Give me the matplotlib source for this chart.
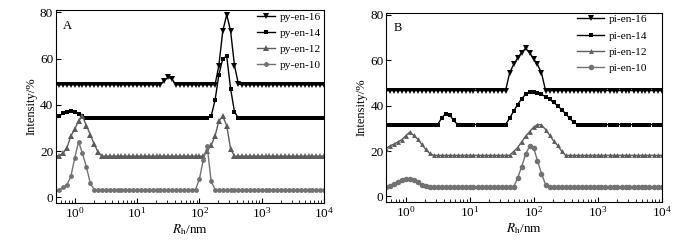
import matplotlib
matplotlib.use("Agg")
import matplotlib.pyplot as plt
import matplotlib.ticker as mticker

plt.rcParams["font.family"] = ["Liberation Serif", "DejaVu Serif"]
plt.rcParams["mathtext.fontset"] = "stix"
plt.rcParams["font.size"] = 9.5

# hydrodynamic radius grid (nm), shared by every curve
rh = [
    0.487, 0.562, 0.649, 0.750, 0.866, 1.00, 1.15, 1.33, 1.54, 1.78,
    2.05, 2.37, 2.74, 3.16, 3.65, 4.22, 4.87, 5.62, 6.49, 7.50,
    8.66, 10.0, 11.5, 13.3, 15.4, 17.8, 20.5, 23.7, 27.4, 31.6,
    36.5, 42.2, 48.7, 56.2, 64.9, 75.0, 86.6, 100, 115, 133,
    154, 178, 205, 237, 274, 316, 365, 422, 487, 562,
    649, 750, 866, 1000, 1150, 1330, 1540, 1780, 2050, 2370,
    2740, 3160, 3650, 4220, 4870, 5620, 6490, 7500, 8660, 10000,
]

# panel A
py16 = [
    48.7, 48.7, 48.7, 48.7, 48.7, 48.7, 48.7, 48.7, 48.7, 48.7,
    48.7, 48.7, 48.7, 48.7, 48.7, 48.7, 48.7, 48.7, 48.7, 48.7,
    48.7, 48.7, 48.7, 48.7, 48.7, 48.7, 48.7, 48.7, 50.5, 52.0,
    51.0, 48.7, 48.7, 48.7, 48.7, 48.7, 48.7, 48.7, 48.7, 48.7,
    48.7, 48.7, 57.0, 72.0, 79.0, 72.0, 57.0, 49.0, 48.7, 48.7,
    48.7, 48.7, 48.7, 48.7, 48.7, 48.7, 48.7, 48.7, 48.7, 48.7,
    48.7, 48.7, 48.7, 48.7, 48.7, 48.7, 48.7, 48.7, 48.7, 48.7,
]
py14 = [
    34.0, 35.0, 36.5, 37.0, 37.2, 37.0, 36.0, 35.0, 34.3, 34.3,
    34.3, 34.3, 34.3, 34.3, 34.3, 34.3, 34.3, 34.3, 34.3, 34.3,
    34.3, 34.3, 34.3, 34.3, 34.3, 34.3, 34.3, 34.3, 34.3, 34.3,
    34.3, 34.3, 34.3, 34.3, 34.3, 34.3, 34.3, 34.3, 34.3, 34.3,
    35.0, 42.0, 53.0, 60.0, 61.0, 47.0, 37.0, 34.3, 34.3, 34.3,
    34.3, 34.3, 34.3, 34.3, 34.3, 34.3, 34.3, 34.3, 34.3, 34.3,
    34.3, 34.3, 34.3, 34.3, 34.3, 34.3, 34.3, 34.3, 34.3, 34.3,
]
py12 = [
    17.8, 18.0, 19.0, 21.5, 26.5, 29.5, 33.0, 35.0, 31.0, 27.0,
    23.0, 19.5, 17.8, 17.8, 17.8, 17.8, 17.8, 17.8, 17.8, 17.8,
    17.8, 17.8, 17.8, 17.8, 17.8, 17.8, 17.8, 17.8, 17.8, 17.8,
    17.8, 17.8, 17.8, 17.8, 17.8, 17.8, 17.8, 17.8, 17.8, 20.0,
    22.5, 26.5, 33.0, 35.0, 31.0, 21.0, 17.8, 17.8, 17.8, 17.8,
    17.8, 17.8, 17.8, 17.8, 17.8, 17.8, 17.8, 17.8, 17.8, 17.8,
    17.8, 17.8, 17.8, 17.8, 17.8, 17.8, 17.8, 17.8, 17.8, 17.8,
]
py10 = [
    3.3, 3.3, 4.3, 5.5, 9.0, 17.0, 24.0, 19.0, 13.0, 6.0,
    3.3, 3.3, 3.3, 3.3, 3.3, 3.3, 3.3, 3.3, 3.3, 3.3,
    3.3, 3.3, 3.3, 3.3, 3.3, 3.3, 3.3, 3.3, 3.3, 3.3,
    3.3, 3.3, 3.3, 3.3, 3.3, 3.3, 3.3, 8.0, 16.0, 22.0,
    7.0, 3.3, 3.3, 3.3, 3.3, 3.3, 3.3, 3.3, 3.3, 3.3,
    3.3, 3.3, 3.3, 3.3, 3.3, 3.3, 3.3, 3.3, 3.3, 3.3,
    3.3, 3.3, 3.3, 3.3, 3.3, 3.3, 3.3, 3.3, 3.3, 3.3,
]

# panel B
pi16 = [
    46.7, 46.7, 46.7, 46.7, 46.7, 46.7, 46.7, 46.7, 46.7, 46.7,
    46.7, 46.7, 46.7, 46.7, 46.7, 46.7, 46.7, 46.7, 46.7, 46.7,
    46.7, 46.7, 46.7, 46.7, 46.7, 46.7, 46.7, 46.7, 46.7, 46.7,
    46.7, 54.4, 58.2, 61.0, 63.4, 65.3, 63.4, 60.7, 58.2, 54.4,
    46.7, 46.7, 46.7, 46.7, 46.7, 46.7, 46.7, 46.7, 46.7, 46.7,
    46.7, 46.7, 46.7, 46.7, 46.7, 46.7, 46.7, 46.7, 46.7, 46.7,
    46.7, 46.7, 46.7, 46.7, 46.7, 46.7, 46.7, 46.7, 46.7, 46.7,
]
pi14 = [
    31.7, 31.7, 31.7, 31.7, 31.7, 31.7, 31.7, 31.7, 31.7, 31.7,
    31.7, 31.7, 31.7, 31.7, 34.5, 36.5, 36.0, 33.5, 31.7, 31.7,
    31.7, 31.7, 31.7, 31.7, 31.7, 31.7, 31.7, 31.7, 31.7, 31.7,
    31.7, 34.5, 37.5, 40.5, 43.0, 45.0, 46.0, 46.0, 45.5, 45.0,
    44.0, 42.8, 41.5, 40.0, 38.3, 36.5, 34.5, 32.8, 31.7, 31.7,
    31.7, 31.7, 31.7, 31.7, 31.7, 31.7, 31.7, 31.7, 31.7, 31.7,
    31.7, 31.7, 31.7, 31.7, 31.7, 31.7, 31.7, 31.7, 31.7, 31.7,
]
pi12 = [
    21.0, 22.2, 23.0, 24.0, 25.0, 26.7, 28.3, 27.0, 25.3, 23.0,
    20.8, 19.0, 18.1, 18.1, 18.1, 18.1, 18.1, 18.1, 18.1, 18.1,
    18.1, 18.1, 18.1, 18.1, 18.1, 18.1, 18.1, 18.1, 18.1, 18.1,
    18.1, 18.1, 19.8, 21.5, 24.0, 26.5, 28.6, 30.5, 31.7, 31.5,
    29.5, 27.0, 24.5, 22.5, 20.0, 18.1, 18.1, 18.1, 18.1, 18.1,
    18.1, 18.1, 18.1, 18.1, 18.1, 18.1, 18.1, 18.1, 18.1, 18.1,
    18.1, 18.1, 18.1, 18.1, 18.1, 18.1, 18.1, 18.1, 18.1, 18.1,
]
pi10 = [
    4.3, 4.8, 5.6, 6.5, 7.2, 7.6, 7.6, 7.2, 6.2, 5.2,
    4.5, 4.1, 4.1, 4.1, 4.1, 4.1, 4.1, 4.1, 4.1, 4.1,
    4.1, 4.1, 4.1, 4.1, 4.1, 4.1, 4.1, 4.1, 4.1, 4.1,
    4.1, 4.1, 4.1, 8.0, 13.0, 18.5, 22.2, 21.5, 15.8, 10.0,
    5.2, 4.1, 4.1, 4.1, 4.1, 4.1, 4.1, 4.1, 4.1, 4.1,
    4.1, 4.1, 4.1, 4.1, 4.1, 4.1, 4.1, 4.1, 4.1, 4.1,
    4.1, 4.1, 4.1, 4.1, 4.1, 4.1, 4.1, 4.1, 4.1, 4.1,
]

labels_a = ["py-en-16", "py-en-14", "py-en-12", "py-en-10"]
labels_b = ["pi-en-16", "pi-en-14", "pi-en-12", "pi-en-10"]
colors = ["black", "black", "#5c5c5c", "#727272"]
markers = ["v", "s", "^", "o"]

fig = plt.figure(figsize=(7, 2.4), dpi=100)
ax_a = fig.add_axes([0.080, 0.154, 0.383, 0.804])
ax_b = fig.add_axes([0.552, 0.158, 0.393, 0.789])


def draw(ax, series, labels, letter, msizes, handlelen, anchor_x):
    for ys, lab, c, m, ms in zip(series, labels, colors, markers, msizes):
        ax.plot(rh, ys, color=c, marker=m, markersize=ms, lw=1.0,
                markeredgewidth=0, label=lab)
    ax.set_xscale("log")
    ax.set_xlim(0.5, 1e4)
    ax.set_ylim(-2.5, 81)
    ax.set_yticks([0, 20, 40, 60, 80])
    ax.xaxis.set_major_locator(mticker.LogLocator(base=10, numticks=10))
    ax.xaxis.set_minor_locator(mticker.LogLocator(base=10, subs=range(2, 10), numticks=10))
    ax.xaxis.set_minor_formatter(mticker.NullFormatter())
    ax.tick_params(which="both", direction="in", top=False, right=False,
                   pad=2, labelsize=9.5)
    ax.tick_params(which="major", length=3.5)
    ax.tick_params(which="minor", length=2)
    ax.set_xlabel("$R_\\mathrm{h}$/nm", labelpad=1, fontsize=9.5)
    ax.set_ylabel("Intensity/%", labelpad=2, fontsize=9)
    ax.text(0.025, 0.95, letter, transform=ax.transAxes, va="top", ha="left",
            fontsize=9)
    ax.legend(loc="upper right", bbox_to_anchor=(anchor_x, 1.0), frameon=False,
              handlelength=handlelen, labelspacing=0.55, handletextpad=0.4,
              borderaxespad=0.0, borderpad=0.15, fontsize=8.2)


draw(ax_a, [py16, py14, py12, py10], labels_a, "A", [4.5, 3.5, 5, 3.5], 1.6, 0.995)
draw(ax_b, [pi16, pi14, pi12, pi10], labels_b, "B", [4, 3.5, 3.5, 4], 2.4, 0.955)

fig.savefig("out.png", dpi=100)
